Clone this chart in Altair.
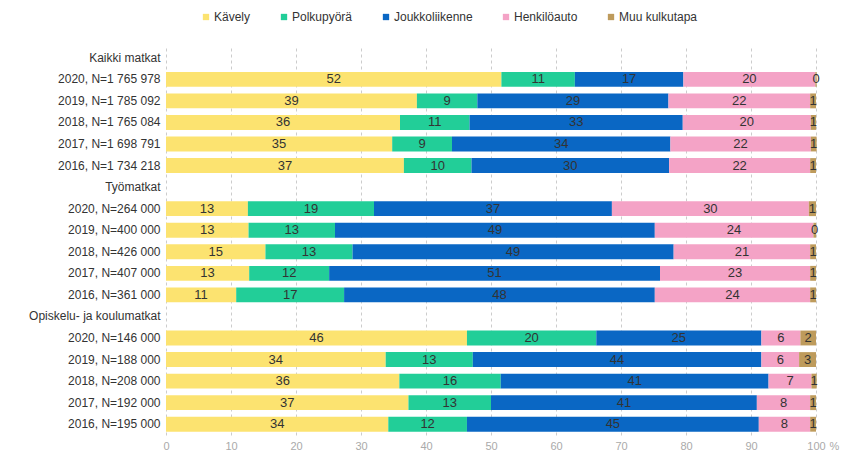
import altair as alt
import pandas as pd

modes = ["Kävely", "Polkupyörä", "Joukkoliikenne", "Henkilöauto", "Muu kulkutapa"]
colors = ["#FCE370", "#22CE98", "#0A67C4", "#F4A3C6", "#BE9B5C"]

headers = ["Kaikki matkat", "Työmatkat", "Opiskelu- ja koulumatkat"]
rows_kaikki = ["2020, N=1 765 978", "2019, N=1 785 092", "2018, N=1 765 084",
               "2017, N=1 698 791", "2016, N=1 734 218"]
rows_tyo = ["2020, N=264 000", "2019, N=400 000", "2018, N=426 000",
            "2017, N=407 000", "2016, N=361 000"]
rows_opis = ["2020, N=146 000", "2019, N=188 000", "2018, N=208 000",
             "2017, N=192 000", "2016, N=195 000"]

kavely = [51.6, 38.6, 36.0, 34.8, 36.6, 12.6, 12.7, 15.3, 12.8, 10.8, 46.3, 33.8, 35.9, 37.3, 34.2]
polkupyora = [11.3, 9.3, 10.7, 9.2, 10.4, 19.4, 13.3, 13.4, 12.3, 16.6, 19.9, 13.4, 15.6, 12.7, 12.1]
joukkoliikenne = [16.7, 29.4, 32.8, 33.6, 30.4, 36.6, 49.2, 49.4, 50.9, 47.8, 25.4, 44.4, 41.2, 40.9, 44.9]
henkiloauto = [20.3, 21.8, 19.7, 21.6, 21.7, 30.3, 24.4, 21.0, 23.1, 23.9, 6.0, 5.8, 6.6, 8.2, 7.9]
muu = [0.2, 0.9, 0.8, 0.9, 0.9, 1.1, 0.4, 0.9, 0.9, 0.9, 2.4, 2.6, 0.8, 0.9, 0.9]

data_rows = rows_kaikki + rows_tyo + rows_opis
y_domain = [headers[0]] + rows_kaikki + [headers[1]] + rows_tyo + [headers[2]] + rows_opis

records = []
for i, r in enumerate(data_rows):
    for k, (m, vals) in enumerate(zip(modes, [kavely, polkupyora, joukkoliikenne, henkiloauto, muu])):
        records.append({"row": r, "mode": m, "order": k, "value": vals[i]})
df = pd.DataFrame(records)

base = alt.Chart(df).transform_stack(
    stack="value", groupby=["row"], as_=["x0", "x1"],
    sort=[alt.SortField("order", order="ascending")]
).transform_calculate(
    mid="(datum.x0 + datum.x1) / 2",
    label="format(datum.value, '.0f')"
)

y_scale = alt.Scale(domain=y_domain, paddingInner=0.31, paddingOuter=0.155)

y_enc = alt.Y("row:N", scale=y_scale,
              axis=alt.Axis(title=None, ticks=False, domain=False, grid=False,
                            labelFontSize=12, labelColor="#333333", labelPadding=6,
                            labelFont="Liberation Sans", labelLimit=300))

bars = base.mark_bar().encode(
    x=alt.X("x0:Q", scale=alt.Scale(domain=[0, 100], nice=False),
            axis=alt.Axis(values=list(range(0, 101, 10)), title="%", grid=True,
                          gridDash=[3, 3], gridColor="#cccccc", ticks=False, domain=False,
                          labelFlush=False,
                          labelColor="#aaaaaa", labelFontSize=11, labelFont="Liberation Sans",
                          labelPadding=5, titleX=668, titleY=11, titleBaseline="middle",
                          titleAlign="center",
                          titleFontWeight="normal", titleColor="#aaaaaa", titleFontSize=11,
                          titleFont="Liberation Sans")),
    x2="x1:Q",
    y=y_enc,
    color=alt.Color("mode:N", scale=alt.Scale(domain=modes, range=colors),
                    legend=alt.Legend(title=None, orient="none", legendX=34, legendY=-36,
                                      direction="horizontal", symbolType="square",
                                      symbolSize=40, symbolStrokeWidth=0,
                                      labelFontSize=12, labelColor="#333333",
                                      labelFont="Liberation Sans", columnPadding=27,
                                      labelOffset=2, padding=0)),
    order=alt.Order("order:Q")
)

texts = base.mark_text(fontSize=13, color="#333333", font="Liberation Sans",
                       baseline="middle", align="center").encode(
    x=alt.X("mid:Q"),
    y=alt.Y("row:N", scale=y_scale),
    text="label:N"
)

chart = alt.layer(bars, texts).properties(
    width=650, height=388, autosize="none",
    padding={"left": 158, "top": 39, "right": 27, "bottom": 18}
).configure_view(stroke=None)

chart.save("out.html", embed_options={"renderer": "svg", "actions": False})
